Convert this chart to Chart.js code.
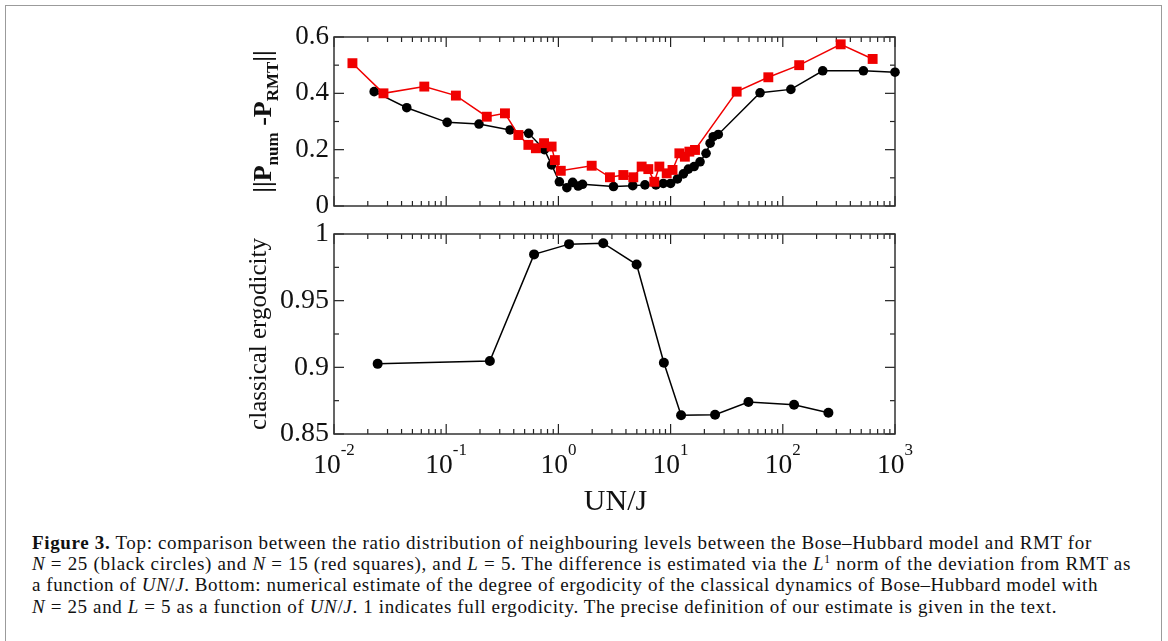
<!DOCTYPE html>
<html><head><meta charset="utf-8">
<script src="https://cdn.jsdelivr.net/npm/chart.js@4.4.1/dist/chart.umd.min.js"></script>
<style>
html,body{margin:0;padding:0;background:#fff;width:1168px;height:641px;overflow:hidden;}
#frame{position:absolute;left:5px;top:5px;width:1157px;height:700px;border:1.5px solid #9b9b9b;box-sizing:border-box;}
#c1{position:absolute;left:0;top:0;}
#c2{position:absolute;left:0;top:200px;}
#cap{position:absolute;left:32px;top:532px;font-family:"Liberation Serif","Times New Roman","DejaVu Serif",serif;font-size:19px;line-height:21.2px;color:#111;white-space:nowrap;}
#cap sup{font-size:11.5px;line-height:0;vertical-align:7px;}
</style></head>
<body>
<div id="frame"></div>
<canvas id="c1" width="1168" height="230"></canvas>
<canvas id="c2" width="1168" height="320"></canvas>
<div id="cap">
<div><span class="ln"><b>Figure 3.</b> Top: comparison between the ratio distribution of neighbouring levels between the Bose–Hubbard model and RMT for</span></div>
<div><span class="ln"><i>N</i> = 25 (black circles) and <i>N</i> = 15 (red squares), and <i>L</i> = 5. The difference is estimated via the <i>L</i><sup>1</sup> norm of the deviation from RMT as</span></div>
<div><span class="ln">a function of <i>UN</i>/<i>J</i>. Bottom: numerical estimate of the degree of ergodicity of the classical dynamics of Bose–Hubbard model with</span></div>
<div><span class="ln"><i>N</i> = 25 and <i>L</i> = 5 as a function of <i>UN</i>/<i>J</i>. 1 indicates full ergodicity. The precise definition of our estimate is given in the text.</span></div>
</div>
<script>
// ---- data ----
const xRed = [0.0146,0.0276,0.0638,0.122,0.23,0.334,0.44,0.54,0.63,0.745,0.87,0.93,1.05,1.98,2.88,3.79,4.65,5.52,6.33,7.16,7.94,9.23,10.4,11.97,13.4,14.7,16.5,38.8,74.3,140,328,632];
const yRed = [0.507,0.400,0.424,0.392,0.317,0.329,0.252,0.217,0.205,0.223,0.211,0.163,0.125,0.143,0.102,0.110,0.102,0.140,0.131,0.086,0.140,0.116,0.128,0.187,0.175,0.193,0.199,0.406,0.457,0.500,0.574,0.522];
const xBlack = [0.0228,0.0445,0.102,0.196,0.371,0.543,0.75,0.87,1.02,1.19,1.34,1.5,1.64,3.1,4.6,5.91,7.4,8.6,10,11.5,13,14.4,16.2,18.3,20.7,22.5,24,26.6,62.7,118,227,523,1000];
const yBlack = [0.406,0.349,0.297,0.291,0.270,0.258,0.200,0.146,0.086,0.065,0.084,0.071,0.077,0.069,0.072,0.075,0.075,0.080,0.080,0.096,0.114,0.131,0.140,0.157,0.187,0.223,0.246,0.254,0.402,0.414,0.480,0.480,0.475];
const xErg = [0.0245,0.245,0.607,1.245,2.51,4.98,8.71,12.4,24.9,49.4,126,255];
const yErg = [0.9026,0.9047,0.9847,0.9924,0.9931,0.9771,0.9034,0.864,0.8645,0.874,0.872,0.866];
const xMajorTicks = [0.01,0.1,1,10,100,1000];
const xTickBase = ["10","10","10","10","10","10"];
const xTickExp = ["-2","-1","0","1","2","3"];
const yTopTicks = [0,0.2,0.4,0.6];
const yTopLabels = ["0","0.2","0.4","0.6"];
const yTopMinor = [0.1,0.3,0.5];
const yBotTicks = [0.85,0.9,0.95,1];
const yBotLabels = ["0.85","0.9","0.95","1"];
const yBotMinor = [0.875,0.925,0.975];
const topTitle = [["||P",false],["num",true],[" -P",false],["RMT",true],["||",false]];
const botTitle = "classical ergodicity";
const xTitle = "UN/J";
const captionWidths = [1060,1099,1066,1025];

const pts = (xs, ys) => xs.map((v,i)=>({x:v,y:ys[i]}));
const SERIF = "'Liberation Serif', 'Times New Roman', serif";

const decor = {
  id:'decor',
  beforeDatasetsDraw(chart, args, o){
    const {ctx, chartArea:a, scales:{x,y}} = chart;
    ctx.save();
    ctx.strokeStyle = '#222'; ctx.lineWidth = 1.2;
    const seg=(x1,y1,x2,y2)=>{ctx.beginPath();ctx.moveTo(x1,y1);ctx.lineTo(x2,y2);ctx.stroke();};
    const xt=(v,len)=>{const p=x.getPixelForValue(v); seg(p,a.bottom,p,a.bottom-len); seg(p,a.top,p,a.top+len);};
    const yt=(v,len)=>{const p=y.getPixelForValue(v); seg(a.left,p,a.left+len,p); seg(a.right,p,a.right-len,p);};
    xMajorTicks.forEach((d,i)=>{ xt(d,10); if(i<xMajorTicks.length-1){ for(let m=2;m<10;m++) xt(m*d,5); }});
    o.yMajor.forEach(v=>yt(v,10));
    o.yMinor.forEach(v=>yt(v,5));
    ctx.lineWidth = 1.5; ctx.strokeStyle='#333';
    ctx.strokeRect(a.left,a.top,a.right-a.left,a.bottom-a.top);
    ctx.restore();
  },
  afterDraw(chart, args, o){
    const {ctx, chartArea:a, scales:{x}} = chart;
    ctx.save();
    ctx.fillStyle='#111';
    const cy=(a.top+a.bottom)/2;
    ctx.translate(o.titleX, cy); ctx.rotate(-Math.PI/2);
    ctx.textBaseline='alphabetic'; ctx.textAlign='left';
    let total=0;
    o.title.forEach(([t,sub])=>{ctx.font=sub?o.subFont:o.titleFont; total+=ctx.measureText(t).width;});
    let cx=-total/2;
    const base = o.titleSize*0.34;
    o.title.forEach(([t,sub])=>{ctx.font=sub?o.subFont:o.titleFont; ctx.fillText(t,cx,sub?base+o.titleSize*0.28:base); cx+=ctx.measureText(t).width;});
    ctx.restore();
    if(o.xLabels){
      ctx.save(); ctx.fillStyle='#111'; ctx.textBaseline='alphabetic'; ctx.textAlign='left';
      xMajorTicks.forEach((v,i)=>{
        const p=x.getPixelForValue(v);
        ctx.font="27.5px "+SERIF; const wb=ctx.measureText(xTickBase[i]).width;
        ctx.font="17px "+SERIF; const we=ctx.measureText(xTickExp[i]).width;
        const x0=p-(wb+we)/2;
        ctx.font="27.5px "+SERIF; ctx.fillText(xTickBase[i],x0,a.bottom+39);
        ctx.font="17px "+SERIF; ctx.fillText(xTickExp[i],x0+wb,a.bottom+21);
      });
      ctx.font="30px "+SERIF; ctx.textAlign='center';
      ctx.fillText(xTitle,(a.left+a.right)/2+1,a.bottom+76);
      ctx.restore();
    }
  }
};

function yAxis(min,max,ticks,labels,size){
  return {type:'linear',min:min,max:max,position:'left',
    afterFit:s=>{s.width=334;},
    afterBuildTicks:s=>{s.ticks=ticks.map(v=>({value:v}));},
    ticks:{font:{family:SERIF,size:size},color:'#111',padding:5,
      callback:(v)=>{const i=ticks.findIndex(t=>Math.abs(t-v)<1e-9);return i>=0?labels[i]:'';}},
    grid:{display:false,drawTicks:false},border:{display:false}};
}
const xAxis = {type:'logarithmic',min:0.01,max:1000,display:false};

new Chart(document.getElementById('c1'),{
  type:'line',
  data:{datasets:[
    {label:'N=15',data:pts(xRed,yRed),borderColor:'#f00000',backgroundColor:'#f00000',borderWidth:1.5,pointStyle:'rect',pointRadius:7,pointBorderWidth:0,tension:0,clip:12},
    {label:'N=25',data:pts(xBlack,yBlack),borderColor:'#000',backgroundColor:'#000',borderWidth:1.5,pointStyle:'circle',pointRadius:4.8,pointBorderWidth:0,tension:0,clip:12}
  ]},
  options:{responsive:false,animation:false,events:[],devicePixelRatio:1,
    layout:{padding:{left:0,top:37,right:273,bottom:24}},
    scales:{x:xAxis,y:yAxis(0,0.6,yTopTicks,yTopLabels,27)},
    plugins:{legend:{display:false},tooltip:{enabled:false},
      decor:{yMajor:yTopTicks,yMinor:yTopMinor,title:topTitle,titleX:262,titleSize:26,
        titleFont:"bold 26px "+SERIF,subFont:"bold 17px "+SERIF,xLabels:false}}
  },
  plugins:[decor]
});

new Chart(document.getElementById('c2'),{
  type:'line',
  data:{datasets:[
    {label:'ergodicity',data:pts(xErg,yErg),borderColor:'#000',backgroundColor:'#000',borderWidth:1.5,pointStyle:'circle',pointRadius:5,pointBorderWidth:0,tension:0,clip:12}
  ]},
  options:{responsive:false,animation:false,events:[],devicePixelRatio:1,
    layout:{padding:{left:0,top:34,right:273,bottom:86}},
    scales:{x:xAxis,y:yAxis(0.85,1,yBotTicks,yBotLabels,28)},
    plugins:{legend:{display:false},tooltip:{enabled:false},
      decor:{yMajor:yBotTicks,yMinor:yBotMinor,title:[[botTitle,false]],titleX:257.5,titleSize:25,
        titleFont:"25px "+SERIF,subFont:"17px "+SERIF,xLabels:true}}
  },
  plugins:[decor]
});

// fit caption lines to the reference line lengths
document.querySelectorAll('#cap .ln').forEach((s,i)=>{
  const w=s.getBoundingClientRect().width;
  const n=s.textContent.length;
  s.style.letterSpacing=((captionWidths[i]-w)/n).toFixed(3)+'px';
});
</script>
</body></html>
